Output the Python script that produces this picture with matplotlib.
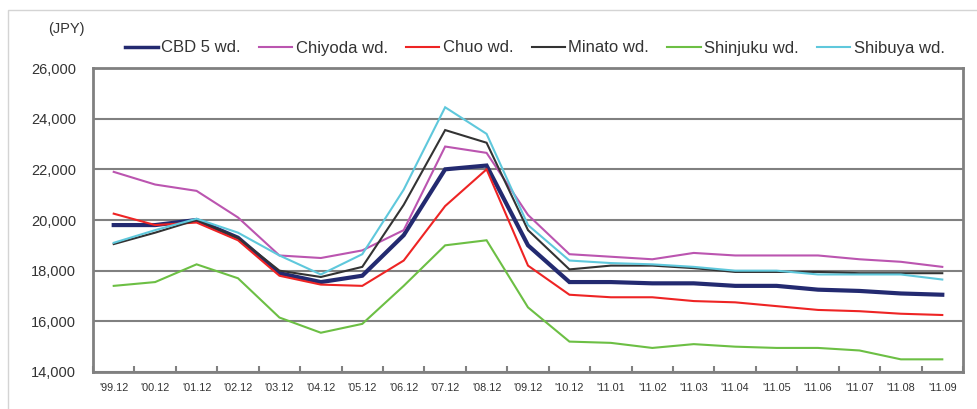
import matplotlib
matplotlib.use("Agg")
import matplotlib.pyplot as plt
from matplotlib.patches import Rectangle
import numpy as np

plt.rcParams['font.family'] = ['Liberation Sans', 'DejaVu Sans']

periods = ["'99.12", "'00.12", "'01.12", "'02.12", "'03.12", "'04.12", "'05.12",
           "'06.12", "'07.12", "'08.12", "'09.12", "'10.12", "'11.01", "'11.02",
           "'11.03", "'11.04", "'11.05", "'11.06", "'11.07", "'11.08", "'11.09"]

cbd5 = [19800, 19800, 20000, 19300, 17900, 17550, 17800, 19400, 22000, 22150, 19000,
        17550, 17550, 17500, 17500, 17400, 17400, 17250, 17200, 17100, 17050]
chiyoda = [21900, 21400, 21150, 20100, 18600, 18500, 18800, 19600, 22900, 22650, 20200,
           18650, 18550, 18450, 18700, 18600, 18600, 18600, 18450, 18350, 18150]
chuo = [20250, 19800, 19900, 19200, 17800, 17450, 17400, 18400, 20550, 22000, 18200,
        17050, 16950, 16950, 16800, 16750, 16600, 16450, 16400, 16300, 16250]
minato = [19050, 19500, 20000, 19300, 18000, 17750, 18150, 20600, 23550, 23050, 19600,
          18050, 18200, 18200, 18100, 17950, 17950, 17950, 17900, 17900, 17900]
shinjuku = [17400, 17550, 18250, 17700, 16150, 15550, 15900, 17400, 19000, 19200, 16550,
            15200, 15150, 14950, 15100, 15000, 14950, 14950, 14850, 14500, 14500]
shibuya = [19100, 19600, 20050, 19500, 18600, 17850, 18650, 21200, 24450, 23400, 19800,
           18400, 18300, 18250, 18150, 18000, 18000, 17850, 17850, 17850, 17650]

series = [
    ("CBD 5 wd.", cbd5, "#232a70", 3.0),
    ("Chiyoda wd.", chiyoda, "#bb55b0", 1.5),
    ("Chuo wd.", chuo, "#ee2424", 1.5),
    ("Minato wd.", minato, "#333333", 1.5),
    ("Shinjuku wd.", shinjuku, "#6cbf44", 1.5),
    ("Shibuya wd.", shibuya, "#5fc8dc", 1.5),
]

fig = plt.figure(figsize=(9.78, 4.09), dpi=100)
fig.patches.append(Rectangle((8 / 978, -0.1), 1.1, 1 - 10 / 409 + 0.1,
                             transform=fig.transFigure, fill=False,
                             edgecolor="#d4d4d4", linewidth=1.0))

ax = fig.add_axes([93 / 978, 37 / 409, 870 / 978, 304 / 409])
x = np.arange(len(periods))
for name, vals, color, lw in series:
    ax.plot(x, vals, color=color, linewidth=lw, label=name, solid_joinstyle='miter')

ax.set_xlim(-0.5, len(periods) - 0.5)
ax.set_ylim(14000, 26000)
ax.set_yticks(np.arange(14000, 26001, 2000))
ax.set_yticklabels([f"{v:,}" for v in range(14000, 26001, 2000)], fontsize=10.5, color="#333333")
ax.yaxis.grid(True, color="#808080", linewidth=1.5)
ax.set_axisbelow(True)
ax.tick_params(axis='y', length=0, pad=12)

ax.set_xticks(x)
ax.set_xticklabels(periods, fontsize=7.8, color="#333333")
ax.set_xticks(np.arange(-0.5, len(periods), 1), minor=True)
ax.tick_params(axis='x', which='major', length=0, pad=8)
ax.tick_params(axis='x', which='minor', direction='in', length=4, width=1.5, color="#808080")

for s in ax.spines.values():
    s.set_color("#808080")
    s.set_linewidth(2)

fig.text(48 / 978, 1 - 29 / 409, "(JPY)", fontsize=10.5, color="#333333", va='center')

leg = fig.legend(loc='center left', bbox_to_anchor=(118 / 978, 1 - 48 / 409), ncol=6,
                 frameon=False, fontsize=12, handlelength=2.0, handletextpad=0.2,
                 columnspacing=1.1, borderaxespad=0)
for h in leg.legend_handles:
    h.set_linewidth(2.5 if h.get_label() == "CBD 5 wd." else 1.5)
for t in leg.get_texts():
    t.set_color("#333333")

fig.savefig("out.png", dpi=100)
